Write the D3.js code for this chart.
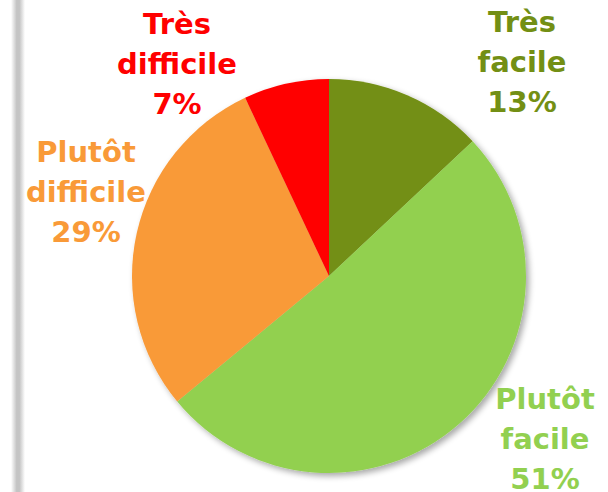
<!DOCTYPE html>
<html><head><meta charset="utf-8">
<script src="https://cdn.jsdelivr.net/npm/d3@7"></script>
<style>html,body{margin:0;padding:0;background:#fff;}svg{display:block;}</style>
</head><body>
<script>
const categories = ["Très facile", "Plutôt facile", "Plutôt difficile", "Très difficile"];
const values = [13, 51, 29, 7];
const colors = ["#738F14", "#92D050", "#F99A38", "#FF0000"];
const labelLines = [["Très", "facile", "13%"], ["Plutôt", "facile", "51%"], ["Plutôt", "difficile", "29%"], ["Très", "difficile", "7%"]];
const labelPos = [[522, 32], [545, 409], [86, 162], [177, 34]];

const W = 608, H = 492;
const svg = d3.select("body").append("svg").attr("width", W).attr("height", H);
const defs = svg.append("defs");
const g1 = defs.append("linearGradient").attr("id", "bar").attr("x1", "0").attr("x2", "1");
g1.append("stop").attr("offset", "0").attr("stop-color", "#fff");
g1.append("stop").attr("offset", "0.4").attr("stop-color", "#c4c4c4");
g1.append("stop").attr("offset", "0.6").attr("stop-color", "#c4c4c4");
g1.append("stop").attr("offset", "1").attr("stop-color", "#fff");
svg.append("rect").attr("x", 11).attr("y", 0).attr("width", 14).attr("height", H).attr("fill", "url(#bar)");

const f = defs.append("filter").attr("id", "sh").attr("x", "-20%").attr("y", "-20%").attr("width", "140%").attr("height", "140%");
f.append("feGaussianBlur").attr("in", "SourceAlpha").attr("stdDeviation", 3);
f.append("feOffset").attr("dx", 3).attr("dy", 3).attr("result", "ob");
f.append("feComponentTransfer").append("feFuncA").attr("type", "linear").attr("slope", 0.35);
const fm = f.append("feMerge");
fm.append("feMergeNode");
fm.append("feMergeNode").attr("in", "SourceGraphic");

const cx = 329, cy = 276, r = 197;
const pie = d3.pie().sort(null).value(d => d)(values);
const arc = d3.arc().innerRadius(0).outerRadius(r);
const pg = svg.append("g").attr("transform", `translate(${cx},${cy})`).attr("filter", "url(#sh)");
pg.selectAll("path").data(pie).join("path").attr("d", arc).attr("fill", (d, i) => colors[i]);

labelLines.forEach((lines, i) => {
  const t = svg.append("text").attr("text-anchor", "middle")
    .attr("font-family", "DejaVu Sans").attr("font-weight", "bold").attr("font-size", 29)
    .attr("fill", colors[i]);
  lines.forEach((l, j) => t.append("tspan").attr("x", labelPos[i][0]).attr("y", labelPos[i][1] + j * 40).text(l));
});
</script>
</body></html>
